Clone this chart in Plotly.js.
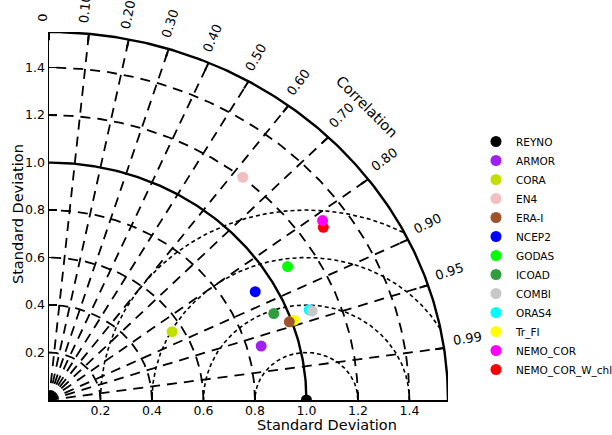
<!DOCTYPE html>
<html><head><meta charset="utf-8">
<script src="https://cdn.plot.ly/plotly-3.0.1.min.js"></script>
<style>html,body{margin:0;padding:0;background:#fff}</style>
</head><body><div id="chart" style="width:612px;height:435px"></div>
<script>
// ---- data ----
const names = ['REYNO','ARMOR','CORA','EN4','ERA-I','NCEP2','GODAS','ICOAD','COMBI','ORAS4','Tr_FI','NEMO_COR','NEMO_COR_W_chl'];
const stdDev = [1.000, 0.855, 0.558, 1.203, 0.990, 0.922, 1.084, 0.946, 1.089, 1.080, 1.010, 1.304, 1.290];
const correlation = [1.000, 0.964, 0.857, 0.626, 0.943, 0.869, 0.855, 0.923, 0.939, 0.936, 0.943, 0.815, 0.826];
const colors = ['#000000','#a020f0','#c2df00','#f2bfbf','#a0522d','#0000ff','#00ff00','#2e9e3e','#c8c8c8','#00ffff','#ffff00','#ff00ff','#ff0000'];
const stdTicks = [0.2, 0.4, 0.6, 0.8, 1.0, 1.2, 1.4];
const stdTickText = ['0.2','0.4','0.6','0.8','1.0','1.2','1.4'];
const dashedStdArcs = [0.2, 0.4, 0.6, 0.8, 1.2, 1.4];
const refStd = 1.0;
const maxStd = 1.55;
const corrTicks = [0, 0.1, 0.2, 0.3, 0.4, 0.5, 0.6, 0.7, 0.8, 0.9, 0.95, 0.99];
const corrTickText = ['0','0.10','0.20','0.30','0.40','0.50','0.60','0.70','0.80','0.90','0.95','0.99'];
const rmsRadii = [0.2, 0.4, 0.6, 0.8];

const FONT = 'DejaVu Sans, sans-serif';
const traces = [];

function arcPts(r, xs, ys) {
  for (let i = 0; i <= 180; i++) {
    const t = (Math.PI / 2) * i / 180;
    xs.push(r * Math.cos(t)); ys.push(r * Math.sin(t));
  }
  xs.push(null); ys.push(null);
}
// dashed std-dev arcs
{
  const xs = [], ys = [];
  dashedStdArcs.forEach(r => arcPts(r, xs, ys));
  traces.push({x: xs, y: ys, mode: 'lines', line: {color: '#000', width: 1.8, dash: '10px,7px'}, showlegend: false, hoverinfo: 'skip'});
}
// correlation rays
{
  const xs = [], ys = [];
  corrTicks.filter(c => c > 0).forEach(c => {
    const s = Math.sqrt(1 - c * c);
    xs.push(0, maxStd * c, null); ys.push(0, maxStd * s, null);
  });
  traces.push({x: xs, y: ys, mode: 'lines', line: {color: '#000', width: 1.8, dash: '10px,7px'}, showlegend: false, hoverinfo: 'skip'});
}
// centred RMS arcs around reference
{
  const xs = [], ys = [];
  rmsRadii.forEach(rho => {
    let prevIn = false;
    for (let i = 0; i <= 360; i++) {
      const p = Math.PI * i / 360;
      const x = refStd + rho * Math.cos(p), y = rho * Math.sin(p);
      const inside = Math.hypot(x, y) <= maxStd;
      if (inside) { xs.push(x); ys.push(y); }
      else if (prevIn) { xs.push(null); ys.push(null); }
      prevIn = inside;
    }
    xs.push(null); ys.push(null);
  });
  traces.push({x: xs, y: ys, mode: 'lines', line: {color: '#000', width: 1.6, dash: '4px,3px'}, showlegend: false, hoverinfo: 'skip'});
}
// solid arcs (reference std and outer boundary)
{
  const xs = [], ys = [];
  arcPts(refStd, xs, ys); arcPts(maxStd, xs, ys);
  traces.push({x: xs, y: ys, mode: 'lines', line: {color: '#000', width: 2.4}, showlegend: false, hoverinfo: 'skip'});
}
// ticks on the correlation arc
{
  const xs = [], ys = [];
  corrTicks.forEach(c => {
    const s = Math.sqrt(1 - c * c);
    xs.push((maxStd - 0.035) * c, maxStd * c, null);
    ys.push((maxStd - 0.035) * s, maxStd * s, null);
  });
  traces.push({x: xs, y: ys, mode: 'lines', line: {color: '#000', width: 2}, showlegend: false, hoverinfo: 'skip'});
}
// data points (drawn last-to-first so earlier entries sit on top)
for (let i = names.length - 1; i >= 0; i--) {
  const c = correlation[i], s = stdDev[i];
  traces.push({
    x: [s * c], y: [s * Math.sqrt(Math.max(0, 1 - c * c))],
    mode: 'markers', name: names[i],
    marker: {color: colors[i], size: 11, line: {width: 0}},
    hoverinfo: 'name'
  });
}

// correlation labels
const annotations = [];
corrTicks.forEach((c, i) => {
  const th = Math.acos(c);
  const txt = corrTickText[i];
  let w = 0; for (const ch of txt) w += (ch === '.' ? 0.318 : 0.636) * 13;
  const d = 10 + w / 2, p = 6;
  annotations.push({
    x: maxStd * c, y: maxStd * Math.sin(th), xref: 'x', yref: 'y',
    text: txt, showarrow: false, textangle: -th * 180 / Math.PI,
    xanchor: 'center', yanchor: 'middle',
    xshift: d * Math.cos(th) - p * Math.sin(th),
    yshift: d * Math.sin(th) + p * Math.cos(th),
    font: {family: FONT, size: 13, color: '#000'}
  });
});
annotations.push({
  x: maxStd * Math.SQRT1_2, y: maxStd * Math.SQRT1_2, xref: 'x', yref: 'y',
  text: 'Correlation', showarrow: false, textangle: 45,
  xanchor: 'center', yanchor: 'middle', xshift: 36, yshift: 33,
  font: {family: FONT, size: 14.5, color: '#000'}
});
annotations.push({
  x: 0.697, y: -0.068, xref: 'paper', yref: 'paper', text: 'Standard Deviation',
  showarrow: false, xanchor: 'center', yanchor: 'middle',
  font: {family: FONT, size: 14.5, color: '#000'}
});
annotations.push({
  x: -0.078, y: 0.505, xref: 'paper', yref: 'paper', text: 'Standard Deviation',
  showarrow: false, textangle: -90, xanchor: 'center', yanchor: 'middle',
  font: {family: FONT, size: 14.5, color: '#000'}
});

const axisCommon = {
  range: [0, maxStd], showgrid: false, zeroline: false, showline: true,
  linecolor: '#000', linewidth: 1.5, ticks: 'inside', ticklen: 8, tickwidth: 1.5,
  tickcolor: '#000', tickvals: stdTicks, ticktext: stdTickText,
  tickfont: {family: FONT, size: 12.5, color: '#000'}, fixedrange: true
};

const layout = {
  width: 612, height: 435,
  margin: {l: 49, r: 164, t: 32, b: 35, autoexpand: false},
  paper_bgcolor: '#fff', plot_bgcolor: '#fff',
  xaxis: Object.assign({}, axisCommon, {ticklabelstandoff: -2}),
  yaxis: Object.assign({}, axisCommon),
  showlegend: true,
  legend: {
    xref: 'paper', yref: 'paper', x: (476 - 49) / 399, y: (400 - 127) / 368,
    xanchor: 'left', yanchor: 'top', traceorder: 'reversed', maxheight: 300,
    font: {family: FONT, size: 10.5, color: '#000'}, bgcolor: 'rgba(0,0,0,0)'
  },
  annotations: annotations,
  hovermode: false
};

Plotly.newPlot('chart', traces, layout, {displayModeBar: false, staticPlot: true});
</script>
</body></html>
